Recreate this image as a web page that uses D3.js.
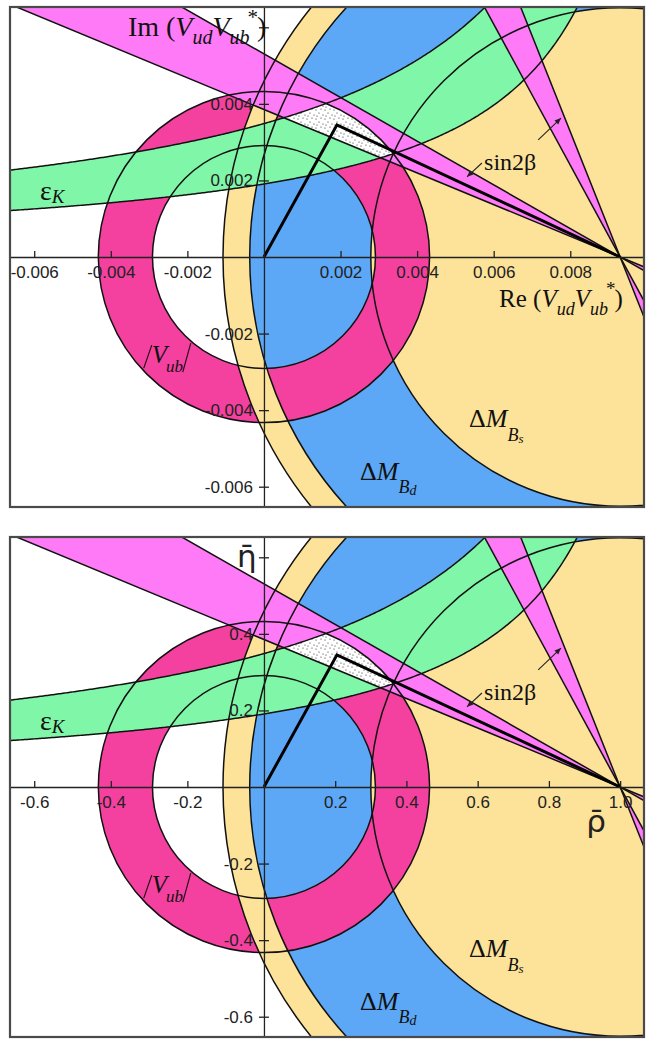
<!DOCTYPE html>
<meta charset="utf-8">
<script src="https://d3js.org/d3.v7.min.js"></script>
<style>
  body { margin: 0; background: #fff; }
  .tick text { font-family: "Liberation Sans", Arial, sans-serif; font-size: 17px; fill: #222; }
  .lbl { font-family: "Liberation Serif", "Times New Roman", serif; fill: #111; }
</style>
<div id="chart"></div>
<script>

// constraints in (rho-bar, eta-bar) units, apex of the triangle at (1,0)
var vubRadii   = [0.313, 0.465];      // |Vub| ring around (0,0)
var dmdRadii   = [0.70, 1.04];        // Delta M_Bd ring around (1,0)
var dmsRadius  = [1.115];             // Delta M_Bs bound around (1,0)
var epsK       = [0.255, 0.499];      // eps_K: eta*(c - rho) = k, lower / upper
var epsC       = [1.243, 1.332];
var betaShallow = [22.5, 29.7];       // sin2beta wedges, degrees at the apex
var betaSteep   = [61.5, 68.3];
var triangle    = [[0, 0], [0.205, 0.371], [1, 0]];

// axis ticks: positions in rho units, labels as printed
var topXPos    = [-0.645, -0.430, -0.215, 0.215, 0.430, 0.645, 0.860];
var topXLabels = ["-0.006", "-0.004", "-0.002", "0.002", "0.004", "0.006", "0.008"];
var topYPos    = [0.645, 0.430, 0.215, -0.215, -0.430, -0.645];
var topYLabels = ["", "0.004", "0.002", "-0.002", "-0.004", "-0.006"];
var botXPos    = [-0.645, -0.430, -0.215, 0.2, 0.4, 0.6, 0.8, 1.0];
var botXLabels = ["-0.6", "-0.4", "-0.2", "0.2", "0.4", "0.6", "0.8", "1.0"];
var botYPos    = [0.645, 0.430, 0.215, -0.215, -0.430, -0.645];
var botYLabels = ["", "0.4", "0.2", "-0.2", "-0.4", "-0.6"];

var colYellow = "#fde299", colBlue = "#5ca8f6", colPink = "#f4419f",
    colGreen = "#80f6a8", colMagenta = "#ff7af6";

var W = 654, H = 1046;
var svg = d3.select("#chart").append("svg").attr("width", W).attr("height", H);

var x = d3.scaleLinear().domain([-0.713, 1.067]).range([10, 644]);
var y = d3.scaleLinear().domain([-0.702, 0.702]).range([507, 7]);
var k = x(1) - x(0);

var line = d3.line().x(function(d) { return x(d[0]); }).y(function(d) { return y(d[1]); });

function ring(r0, r1) {
  return d3.arc().innerRadius(r0 * k).outerRadius(r1 * k).startAngle(0).endAngle(2 * Math.PI)();
}
function hyper(i, vmax) {
  var c = epsC[i], kk = epsK[i], uEnd = c - kk / vmax;
  return d3.range(-0.8, uEnd, 0.004).concat([uEnd]).map(function(u) { return [u, kk / (c - u)]; });
}
function dir(a) { a = a * Math.PI / 180; return [-Math.cos(a), Math.sin(a)]; }
function wedge(a) {
  var L = 3, d1 = dir(a[0]), d2 = dir(a[1]);
  return line([[1, 0], [1 + L * d1[0], L * d1[1]], [1 + L * d2[0], L * d2[1]], [1, 0]]) + "Z" +
         line([[1, 0], [1 - L * d1[0], -L * d1[1]], [1 - L * d2[0], -L * d2[1]], [1, 0]]) + "Z";
}

var lower = hyper(0, 0.8), upper = hyper(1, 0.8);
var bandPath = line(upper.concat(lower.slice().reverse())) + "Z";
var origin = "translate(" + x(0) + "," + y(0) + ")";
var apex = "translate(" + x(1) + "," + y(0) + ")";

var defs = svg.append("defs");
defs.append("clipPath").attr("id", "frameClip")
  .append("rect").attr("x", 10).attr("y", 7).attr("width", 634).attr("height", 500);
defs.append("clipPath").attr("id", "vubClip")
  .append("path").attr("d", ring(vubRadii[0], vubRadii[1])).attr("transform", origin);
defs.append("clipPath").attr("id", "epsClip")
  .append("path").attr("d", bandPath);
var pat = defs.append("pattern").attr("id", "stipple").attr("patternUnits", "userSpaceOnUse")
  .attr("width", 9).attr("height", 9);
pat.append("rect").attr("width", 9).attr("height", 9).attr("fill", "#fff");
[[1, 2], [6, 1], [4, 5], [8, 7], [2, 8]].forEach(function(p) {
  pat.append("circle").attr("cx", p[0]).attr("cy", p[1]).attr("r", 0.6).attr("fill", "#222");
});

function drawPanel(offset, xPos, xLabels, yPos, yLabels, titles) {
  var g = svg.append("g").attr("transform", "translate(0," + offset + ")");
  var plot = g.append("g").attr("clip-path", "url(#frameClip)");

  // filled regions
  plot.append("circle").attr("cx", x(1)).attr("cy", y(0)).attr("r", dmsRadius[0] * k).attr("fill", colYellow);
  plot.append("path").attr("d", ring(dmdRadii[0], dmdRadii[1])).attr("transform", apex).attr("fill", colBlue);
  plot.append("path").attr("d", ring(vubRadii[0], vubRadii[1])).attr("transform", origin).attr("fill", colPink);
  plot.append("path").attr("d", ring(dmdRadii[1], dmsRadius[0])).attr("transform", apex).attr("fill", colYellow);
  plot.append("path").attr("d", bandPath).attr("fill", colGreen);
  plot.append("path").attr("d", wedge(betaShallow)).attr("fill", colMagenta);
  plot.append("path").attr("d", wedge(betaSteep)).attr("fill", colMagenta);

  // allowed region
  plot.append("g").attr("clip-path", "url(#vubClip)")
    .append("g").attr("clip-path", "url(#epsClip)")
    .append("path").attr("d", wedge(betaShallow)).attr("fill", "url(#stipple)");

  // boundary curves
  var st = plot.append("g").attr("fill", "none").attr("stroke", "#111").attr("stroke-width", 1.5);
  vubRadii.forEach(function(r) { st.append("circle").attr("cx", x(0)).attr("cy", y(0)).attr("r", r * k); });
  dmdRadii.concat(dmsRadius).forEach(function(r) { st.append("circle").attr("cx", x(1)).attr("cy", y(0)).attr("r", r * k); });
  st.append("path").attr("d", line(upper));
  st.append("path").attr("d", line(lower));
  betaShallow.concat(betaSteep).forEach(function(a) {
    var d = dir(a);
    st.append("path").attr("d", line([[1 - 3 * d[0], -3 * d[1]], [1 + 3 * d[0], 3 * d[1]]]));
  });

  // unitarity triangle
  plot.append("path").attr("d", line(triangle)).attr("fill", "none")
    .attr("stroke", "#000").attr("stroke-width", 3).attr("stroke-linejoin", "miter");

  // axes
  var xa = g.append("g").attr("transform", "translate(0," + y(0) + ")")
    .call(d3.axisBottom(x).tickValues(xPos).tickFormat(function(d, i) { return xLabels[i]; })
      .tickSize(-6).tickSizeOuter(0).tickPadding(8));
  xa.selectAll(".tick text").attr("dy", "0.75em");
  var ya = g.append("g").attr("transform", "translate(" + x(0) + ",0)")
    .call(d3.axisLeft(y).tickValues(yPos).tickFormat(function(d, i) { return yLabels[i]; })
      .tickSize(5).tickSizeOuter(0).tickPadding(6));
  ya.selectAll(".tick line").attr("x1", 5);
  g.selectAll(".domain, .tick line").attr("stroke", "#222").attr("stroke-width", 1.3);

  titles(g);

  // constraint labels
  var e = g.append("text").attr("class", "lbl").attr("x", x(-0.629)).attr("y", y(0.160)).attr("font-size", 28);
  e.append("tspan").text("ε");
  e.append("tspan").attr("font-style", "italic").attr("font-size", 19).attr("dy", 3).text("K");

  var v = g.append("g").attr("transform", "translate(" + x(-0.315) + "," + y(-0.298) + ")");
  var vt = v.append("text").attr("class", "lbl").attr("font-size", 25).attr("fill", "#2a0a1c");
  vt.append("tspan").attr("font-style", "italic").text("V");
  vt.append("tspan").attr("font-style", "italic").attr("font-size", 17).attr("dy", 9).attr("dx", -1).text("ub");
  v.append("path").attr("d", "M-8,5L0,-18M31,9L39,-20").attr("stroke", "#2a0a1c").attr("stroke-width", 1.2);

  var s = g.append("text").attr("class", "lbl").attr("x", x(0.576)).attr("y", y(-0.478)).attr("font-size", 26);
  s.append("tspan").text("Δ");
  s.append("tspan").attr("font-style", "italic").text("M");
  s.append("tspan").attr("font-style", "italic").attr("font-size", 18).attr("dy", 14).text("B");
  s.append("tspan").attr("font-style", "italic").attr("font-size", 13).attr("dy", 2).text("s");

  var d = g.append("text").attr("class", "lbl").attr("x", x(0.270)).attr("y", y(-0.626)).attr("font-size", 26);
  d.append("tspan").text("Δ");
  d.append("tspan").attr("font-style", "italic").text("M");
  d.append("tspan").attr("font-style", "italic").attr("font-size", 18).attr("dy", 13).text("B");
  d.append("tspan").attr("font-style", "italic").attr("font-size", 14).attr("dy", 2).text("d");

  g.append("text").attr("class", "lbl").attr("x", x(0.618)).attr("y", y(0.244)).attr("font-size", 24).text("sin2β");
  var ar = g.append("g").attr("stroke", "#222").attr("stroke-width", 1.1).attr("fill", "#222");
  [[[0.612, 0.264], [0.570, 0.225]], [[0.770, 0.329], [0.834, 0.390]]].forEach(function(a) {
    var x1 = x(a[0][0]), y1 = y(a[0][1]), x2 = x(a[1][0]), y2 = y(a[1][1]);
    var ang = Math.atan2(y2 - y1, x2 - x1), h = 7;
    ar.append("line").attr("x1", x1).attr("y1", y1).attr("x2", x2).attr("y2", y2);
    ar.append("path").attr("stroke", "none").attr("d",
      "M" + x2 + "," + y2 +
      "L" + (x2 - h * Math.cos(ang - 0.4)) + "," + (y2 - h * Math.sin(ang - 0.4)) +
      "L" + (x2 - h * Math.cos(ang + 0.4)) + "," + (y2 - h * Math.sin(ang + 0.4)) + "Z");
  });

  // frame
  g.append("rect").attr("x", 10).attr("y", 7).attr("width", 634).attr("height", 500)
    .attr("fill", "none").attr("stroke", "#4a4a4a").attr("stroke-width", 2.2);
}

function vvTitle(t, sub) {
  t.append("tspan").attr("font-style", "italic").text("V");
  t.append("tspan").attr("font-style", "italic").attr("font-size", sub).attr("dy", 8).text("ud");
  t.append("tspan").attr("font-style", "italic").attr("dy", -8).text("V");
  t.append("tspan").attr("font-style", "italic").attr("font-size", sub).attr("dy", 8).text("ub");
  t.append("tspan").attr("font-size", sub + 1).attr("dy", -20).attr("dx", -2).text("*");
  t.append("tspan").attr("dy", 12).attr("dx", -1).text(")");
}

drawPanel(0, topXPos, topXLabels, topYPos, topYLabels, function(g) {
  var t = g.append("text").attr("class", "lbl").attr("x", x(-0.382)).attr("y", y(0.621)).attr("font-size", 28);
  t.append("tspan").text("Im (");
  vvTitle(t, 20);
  var r = g.append("text").attr("class", "lbl").attr("x", x(0.660)).attr("y", y(-0.140)).attr("font-size", 25);
  r.append("tspan").text("Re (");
  vvTitle(r, 18);
});

drawPanel(530, botXPos, botXLabels, botYPos, botYLabels, function(g) {
  g.append("text").attr("x", x(-0.076)).attr("y", y(0.618)).attr("font-size", 31)
    .attr("font-family", "DejaVu Sans, sans-serif").attr("fill", "#222").text("η\u0304");
  g.append("text").attr("x", x(0.905)).attr("y", y(-0.127)).attr("font-size", 31)
    .attr("font-family", "DejaVu Sans, sans-serif").attr("fill", "#222").text("ρ\u0304");
});

</script>
